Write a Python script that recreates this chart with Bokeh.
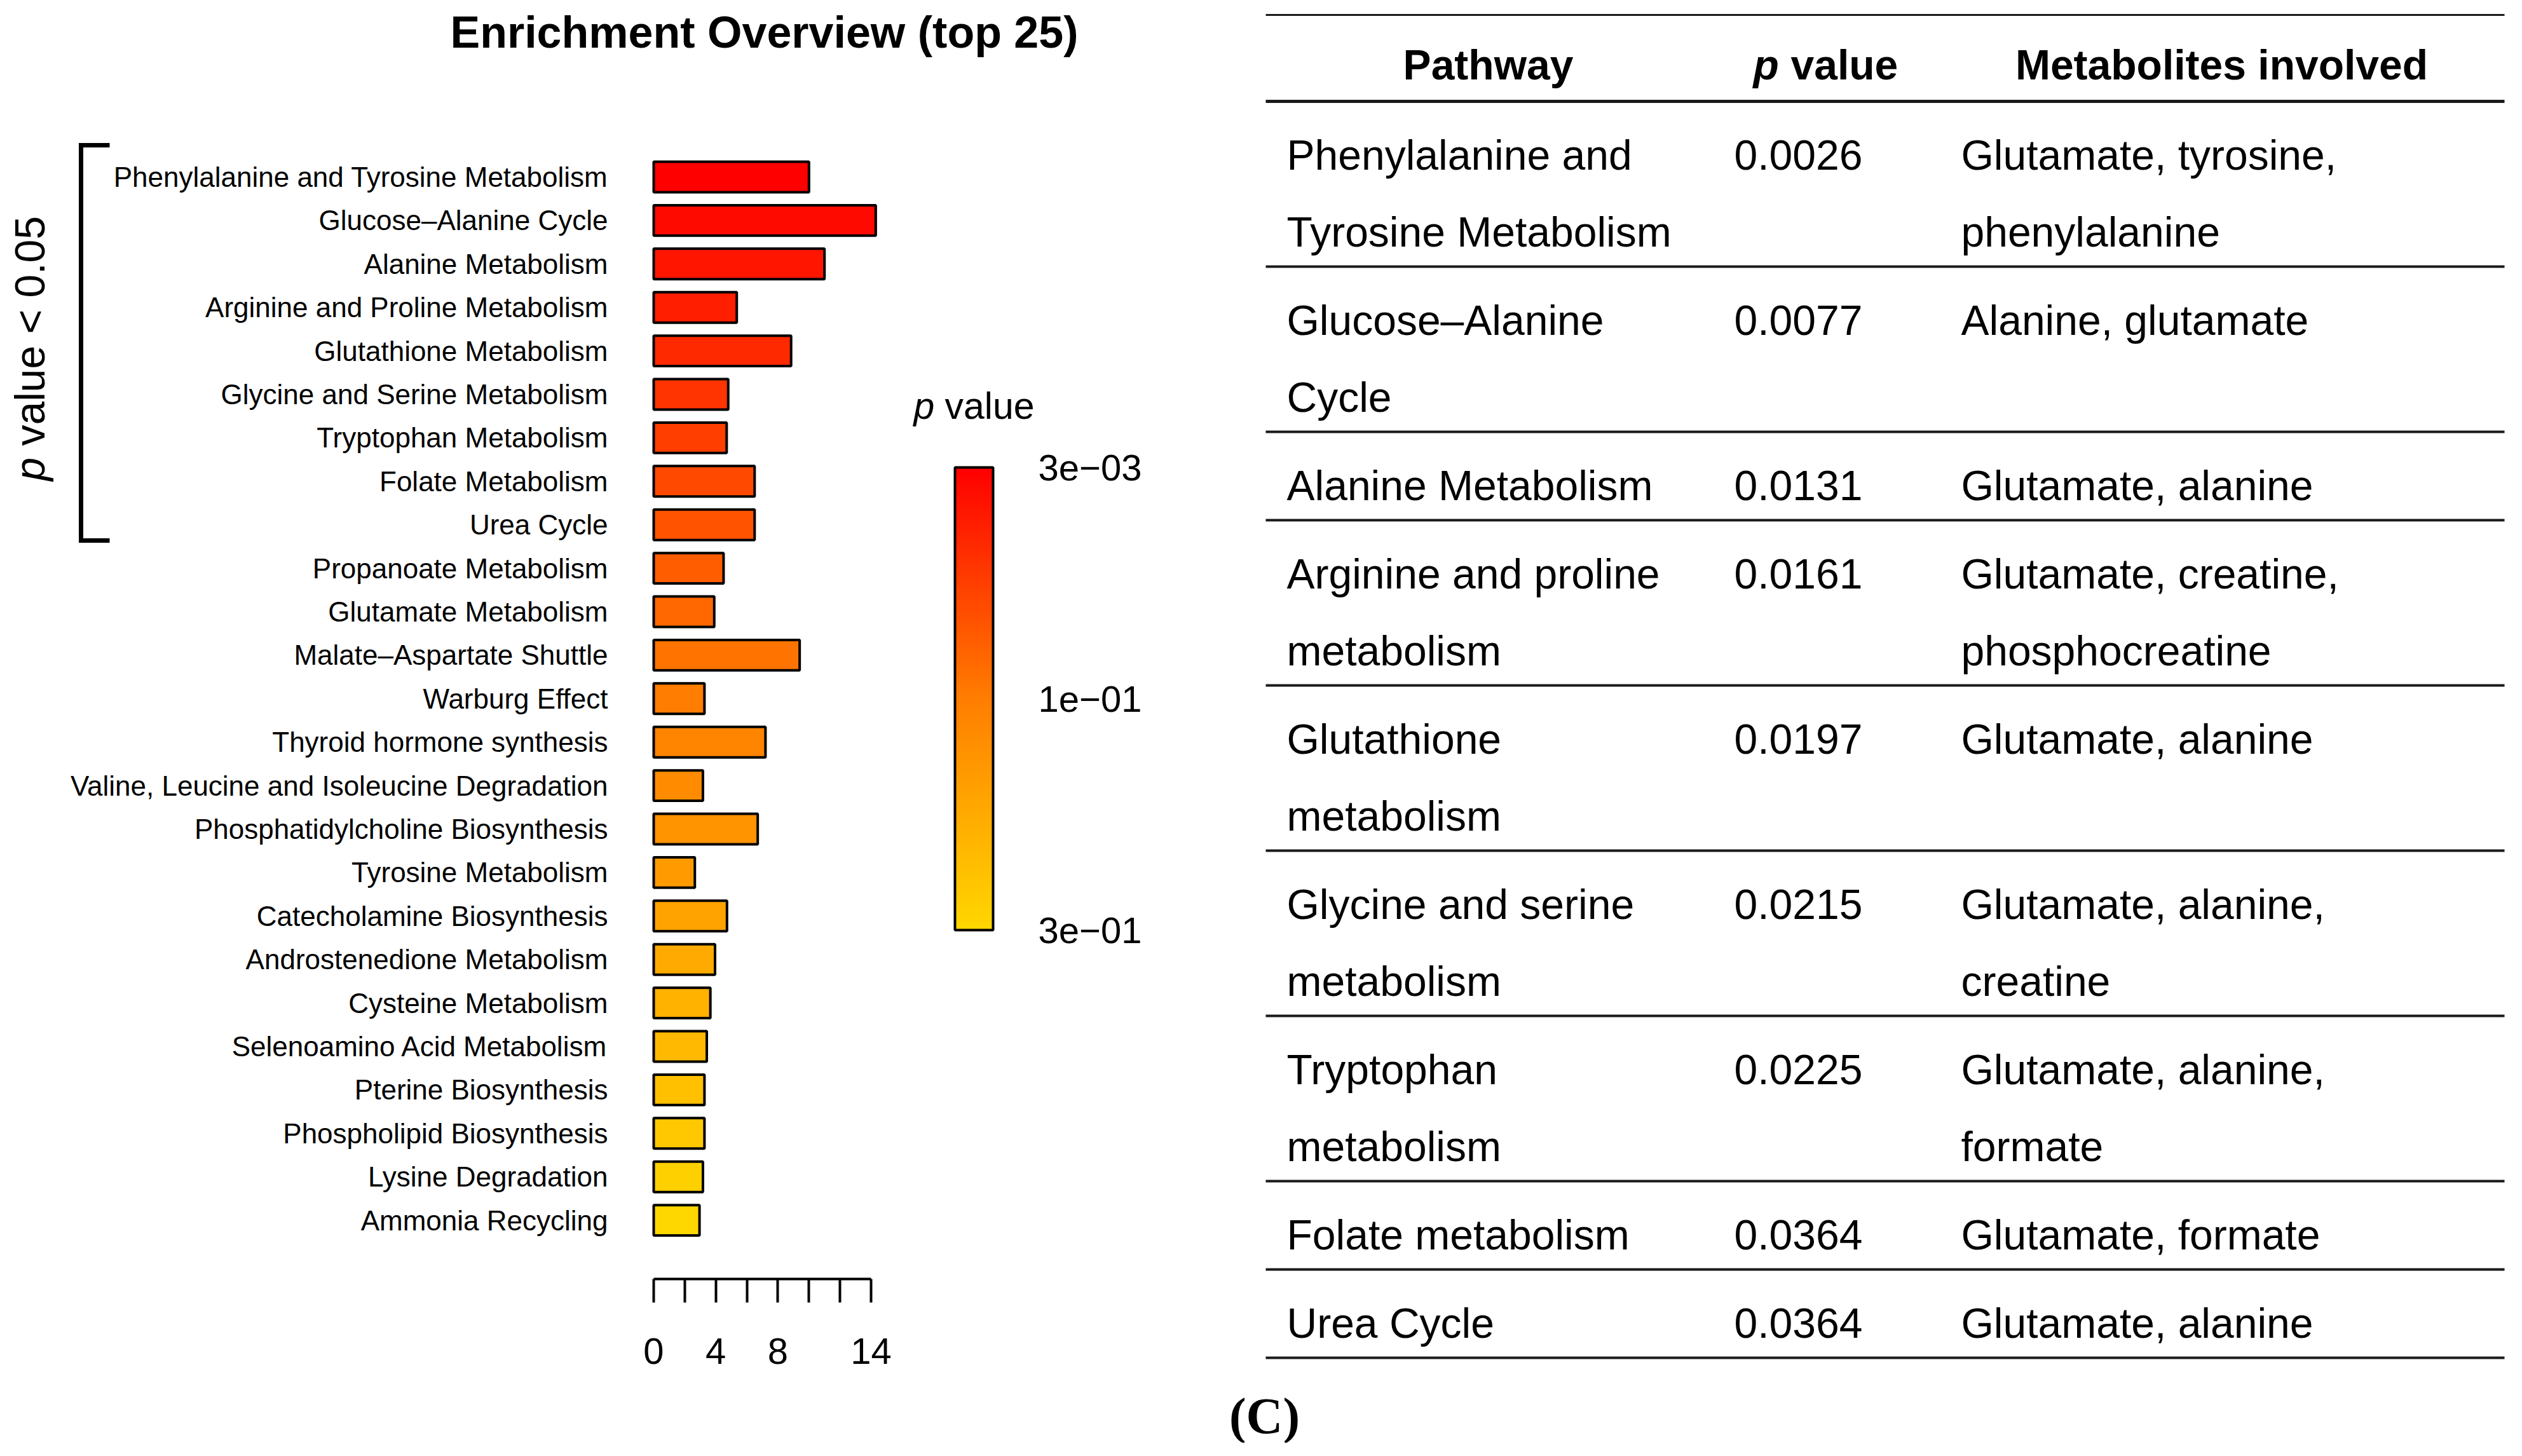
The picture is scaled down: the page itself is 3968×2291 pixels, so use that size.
import numpy as np
from bokeh.plotting import figure
from bokeh.models import Range1d, FixedTicker, LinearColorMapper, ColorBar, ColumnDataSource
from bokeh.layouts import row
from bokeh.core.properties import value
from bokeh.embed import file_html
from bokeh.resources import INLINE

# ---------------- data ----------------
categories = [
    "Phenylalanine and Tyrosine Metabolism", "Glucose–Alanine Cycle", "Alanine Metabolism",
    "Arginine and Proline Metabolism", "Glutathione Metabolism", "Glycine and Serine Metabolism",
    "Tryptophan Metabolism", "Folate Metabolism", "Urea Cycle", "Propanoate Metabolism",
    "Glutamate Metabolism", "Malate–Aspartate Shuttle", "Warburg Effect",
    "Thyroid hormone synthesis", "Valine, Leucine and Isoleucine Degradation",
    "Phosphatidylcholine Biosynthesis", "Tyrosine Metabolism", "Catecholamine Biosynthesis",
    "Androstenedione Metabolism", "Cysteine Metabolism", "Selenoamino Acid Metabolism",
    "Pterine Biosynthesis", "Phospholipid Biosynthesis", "Lysine Degradation", "Ammonia Recycling",
]
enrichment = [10.0, 14.3, 11.0, 5.35, 8.85, 4.8, 4.7, 6.5, 6.5, 4.5, 3.9, 9.4, 3.27,
              7.2, 3.17, 6.7, 2.65, 4.72, 3.95, 3.65, 3.42, 3.27, 3.27, 3.17, 2.95]

x_ticks = [0, 2, 4, 6, 8, 10, 12, 14]
x_tick_labels = ["0", "", "4", "", "8", "", "", "14"]
cbar_ticks = [0, 0.5, 1]
cbar_labels = ["3e−01", "1e−01", "3e−03"]

tbl_pathway = [["Phenylalanine and", "Tyrosine Metabolism"], ["Glucose–Alanine", "Cycle"],
               ["Alanine Metabolism"], ["Arginine and proline", "metabolism"],
               ["Glutathione", "metabolism"], ["Glycine and serine", "metabolism"],
               ["Tryptophan", "metabolism"], ["Folate metabolism"], ["Urea Cycle"]]
tbl_pvalue = ["0.0026", "0.0077", "0.0131", "0.0161", "0.0197", "0.0215", "0.0225", "0.0364", "0.0364"]
tbl_metab = [["Glutamate, tyrosine,", "phenylalanine"], ["Alanine, glutamate"],
             ["Glutamate, alanine"], ["Glutamate, creatine,", "phosphocreatine"],
             ["Glutamate, alanine"], ["Glutamate, alanine,", "creatine"],
             ["Glutamate, alanine,", "formate"], ["Glutamate, formate"], ["Glutamate, alanine"]]

# ---------------- styling / layout constants ----------------
FONT = "Liberation Sans"
W1, W2, H = 1900, 2052, 2270
SX, SY = 24.43, 68.4      # px per unit (x), px per row (y)
X0, Y0, AXY = 1028, 278, 2012
n = len(categories)


def X(px):
    return (px - X0) / SX


def Y(py):
    return (n - 1) - (py - Y0) / SY


def ramp(t):
    stops = [(0.0, (255, 215, 0)), (0.5, (255, 125, 0)), (1.0, (255, 0, 0))]
    for (t0, c0), (t1, c1) in zip(stops[:-1], stops[1:]):
        if t <= t1:
            f = (t - t0) / (t1 - t0)
            c = [round(a + (b - a) * f) for a, b in zip(c0, c1)]
            return "#%02x%02x%02x" % tuple(c)
    return "#ff0000"


palette = [ramp(i / 255) for i in range(256)]
mapper = LinearColorMapper(palette=palette, low=0, high=1)

# ---------------- left: enrichment overview ----------------
p = figure(width=W1, height=H, x_range=Range1d(X(0), X(W1)), y_range=Range1d(Y(H), Y(0)),
           output_backend="svg", toolbar_location=None, title=None,
           min_border_left=0, min_border_right=0, min_border_top=0, min_border_bottom=0,
           y_axis_location=None)
p.outline_line_color = None
p.grid.visible = False
p.background_fill_color = "white"
p.border_fill_color = "white"

src = ColumnDataSource(dict(
    name=categories,
    value=enrichment,
    y=[n - 1 - i for i in range(n)],
    cval=[1 - i / (n - 1) for i in range(n)],
))
p.hbar(y="y", left=0, right="value", height=0.7, source=src,
       fill_color={"field": "cval", "transform": mapper}, line_color="black", line_width=4)
p.text(x=0, y="y", text="name", source=src, x_offset=-72, text_align="right",
       text_baseline="middle", text_font=value(FONT), text_font_size="44px", text_color="black")

ax = p.xaxis[0]
ax.fixed_location = Y(AXY)
ax.ticker = FixedTicker(ticks=x_ticks)
ax.bounds = (0, 14)
ax.major_label_overrides = {t: l for t, l in zip(x_ticks, x_tick_labels)}
ax.axis_line_width = 4
ax.axis_line_color = "black"
ax.major_tick_line_width = 4
ax.major_tick_line_color = "black"
ax.major_tick_out = 37
ax.major_tick_in = 0
ax.minor_tick_line_color = None
ax.major_label_text_font = FONT
ax.major_label_text_font_size = "58px"
ax.major_label_text_color = "black"
ax.major_label_standoff = 56

# title
p.text(x=[X(1202)], y=[Y(50)], text=["Enrichment Overview (top 25)"], text_align="center",
       text_baseline="middle", text_font=value(FONT), text_font_size="70px",
       text_font_style="bold", text_color="black")

# bracket + rotated label for significant pathways
p.line(x=[X(172), X(127), X(127), X(172)], y=[Y(228), Y(228), Y(850), Y(850)],
       line_width=7, line_color="black", line_join="miter")
p.text(x=[X(46)], y=[Y(756)], text=["p"], angle=np.pi / 2, text_align="left",
       text_baseline="middle", text_font=value(FONT), text_font_size="66px",
       text_font_style="italic", text_color="black")
p.text(x=[X(46)], y=[Y(701)], text=["value < 0.05"], angle=np.pi / 2, text_align="left",
       text_baseline="middle", text_font=value(FONT), text_font_size="66px",
       text_color="black")

# colour bar
cb = ColorBar(color_mapper=mapper, ticker=FixedTicker(ticks=cbar_ticks),
              major_label_overrides={t: l for t, l in zip(cbar_ticks, cbar_labels)},
              orientation="vertical", location=(1502, H - 1463), width=60, height=728,
              padding=0, bar_line_color="black", bar_line_width=4,
              major_tick_line_color=None, minor_tick_line_color=None,
              label_standoff=71, major_label_text_font=FONT,
              major_label_text_font_size="58px", major_label_text_color="black",
              background_fill_color=None, border_line_color=None)
p.add_layout(cb)
p.text(x=[X(1437)], y=[Y(638)], text=["p"], text_align="left", text_baseline="middle",
       text_font=value(FONT), text_font_size="59px", text_font_style="italic", text_color="black")
p.text(x=[X(1486)], y=[Y(638)], text=["value"], text_align="left", text_baseline="middle",
       text_font=value(FONT), text_font_size="59px", text_color="black")

# ---------------- right: table ----------------
t = figure(width=W2, height=H, x_range=Range1d(0, W2), y_range=Range1d(H, 0),
           output_backend="svg", toolbar_location=None, title=None, min_border=0,
           x_axis_location=None, y_axis_location=None)
t.outline_line_color = None
t.grid.visible = False
t.background_fill_color = "white"
t.border_fill_color = "white"

LX0, LX1 = 91, 2040
TOP, HEAD = 23, 159
ROW1, LINE_H, MID_OFF = 139, 121, 84
COLS = [124, 828, 1185]

t.segment(x0=[LX0], y0=[TOP], x1=[LX1], y1=[TOP], line_width=3, line_color="#1a1a1a")
t.segment(x0=[LX0], y0=[HEAD], x1=[LX1], y1=[HEAD], line_width=5, line_color="#1a1a1a")

hy = 101
t.text(x=[441, 1595], y=[hy, hy], text=["Pathway", "Metabolites involved"], text_align="center",
       text_baseline="middle", text_font=value(FONT), text_font_size="66px",
       text_font_style="bold", text_color="black")
t.text(x=[858], y=[hy], text=["p"], text_align="left", text_baseline="middle",
       text_font=value(FONT), text_font_size="66px", text_font_style="bold italic", text_color="black")
t.text(x=[917], y=[hy], text=["value"], text_align="left", text_baseline="middle",
       text_font=value(FONT), text_font_size="66px", text_font_style="bold", text_color="black")

xs, ys, txt, row_lines = [], [], [], []
y_top = HEAD
for pw, pv, mt in zip(tbl_pathway, tbl_pvalue, tbl_metab):
    nl = max(len(pw), len(mt))
    for col, lines in zip(COLS, [pw, [pv], mt]):
        for k, s in enumerate(lines):
            xs.append(col)
            ys.append(y_top + MID_OFF + k * LINE_H)
            txt.append(s)
    y_top += ROW1 + LINE_H * (nl - 1)
    row_lines.append(y_top)

t.text(x=xs, y=ys, text=txt, text_align="left", text_baseline="middle",
       text_font=value(FONT), text_font_size="66px", text_color="black")
t.segment(x0=[LX0] * len(row_lines), y0=row_lines, x1=[LX1] * len(row_lines), y1=row_lines,
          line_width=4, line_color="#1a1a1a")

t.text(x=[89], y=[2227], text=["(C)"], text_align="center", text_baseline="middle",
       text_font=value("Liberation Serif"), text_font_size="80px", text_font_style="bold",
       text_color="black")

layout = row(p, t)
open("out.html", "w").write(file_html(layout, INLINE))
